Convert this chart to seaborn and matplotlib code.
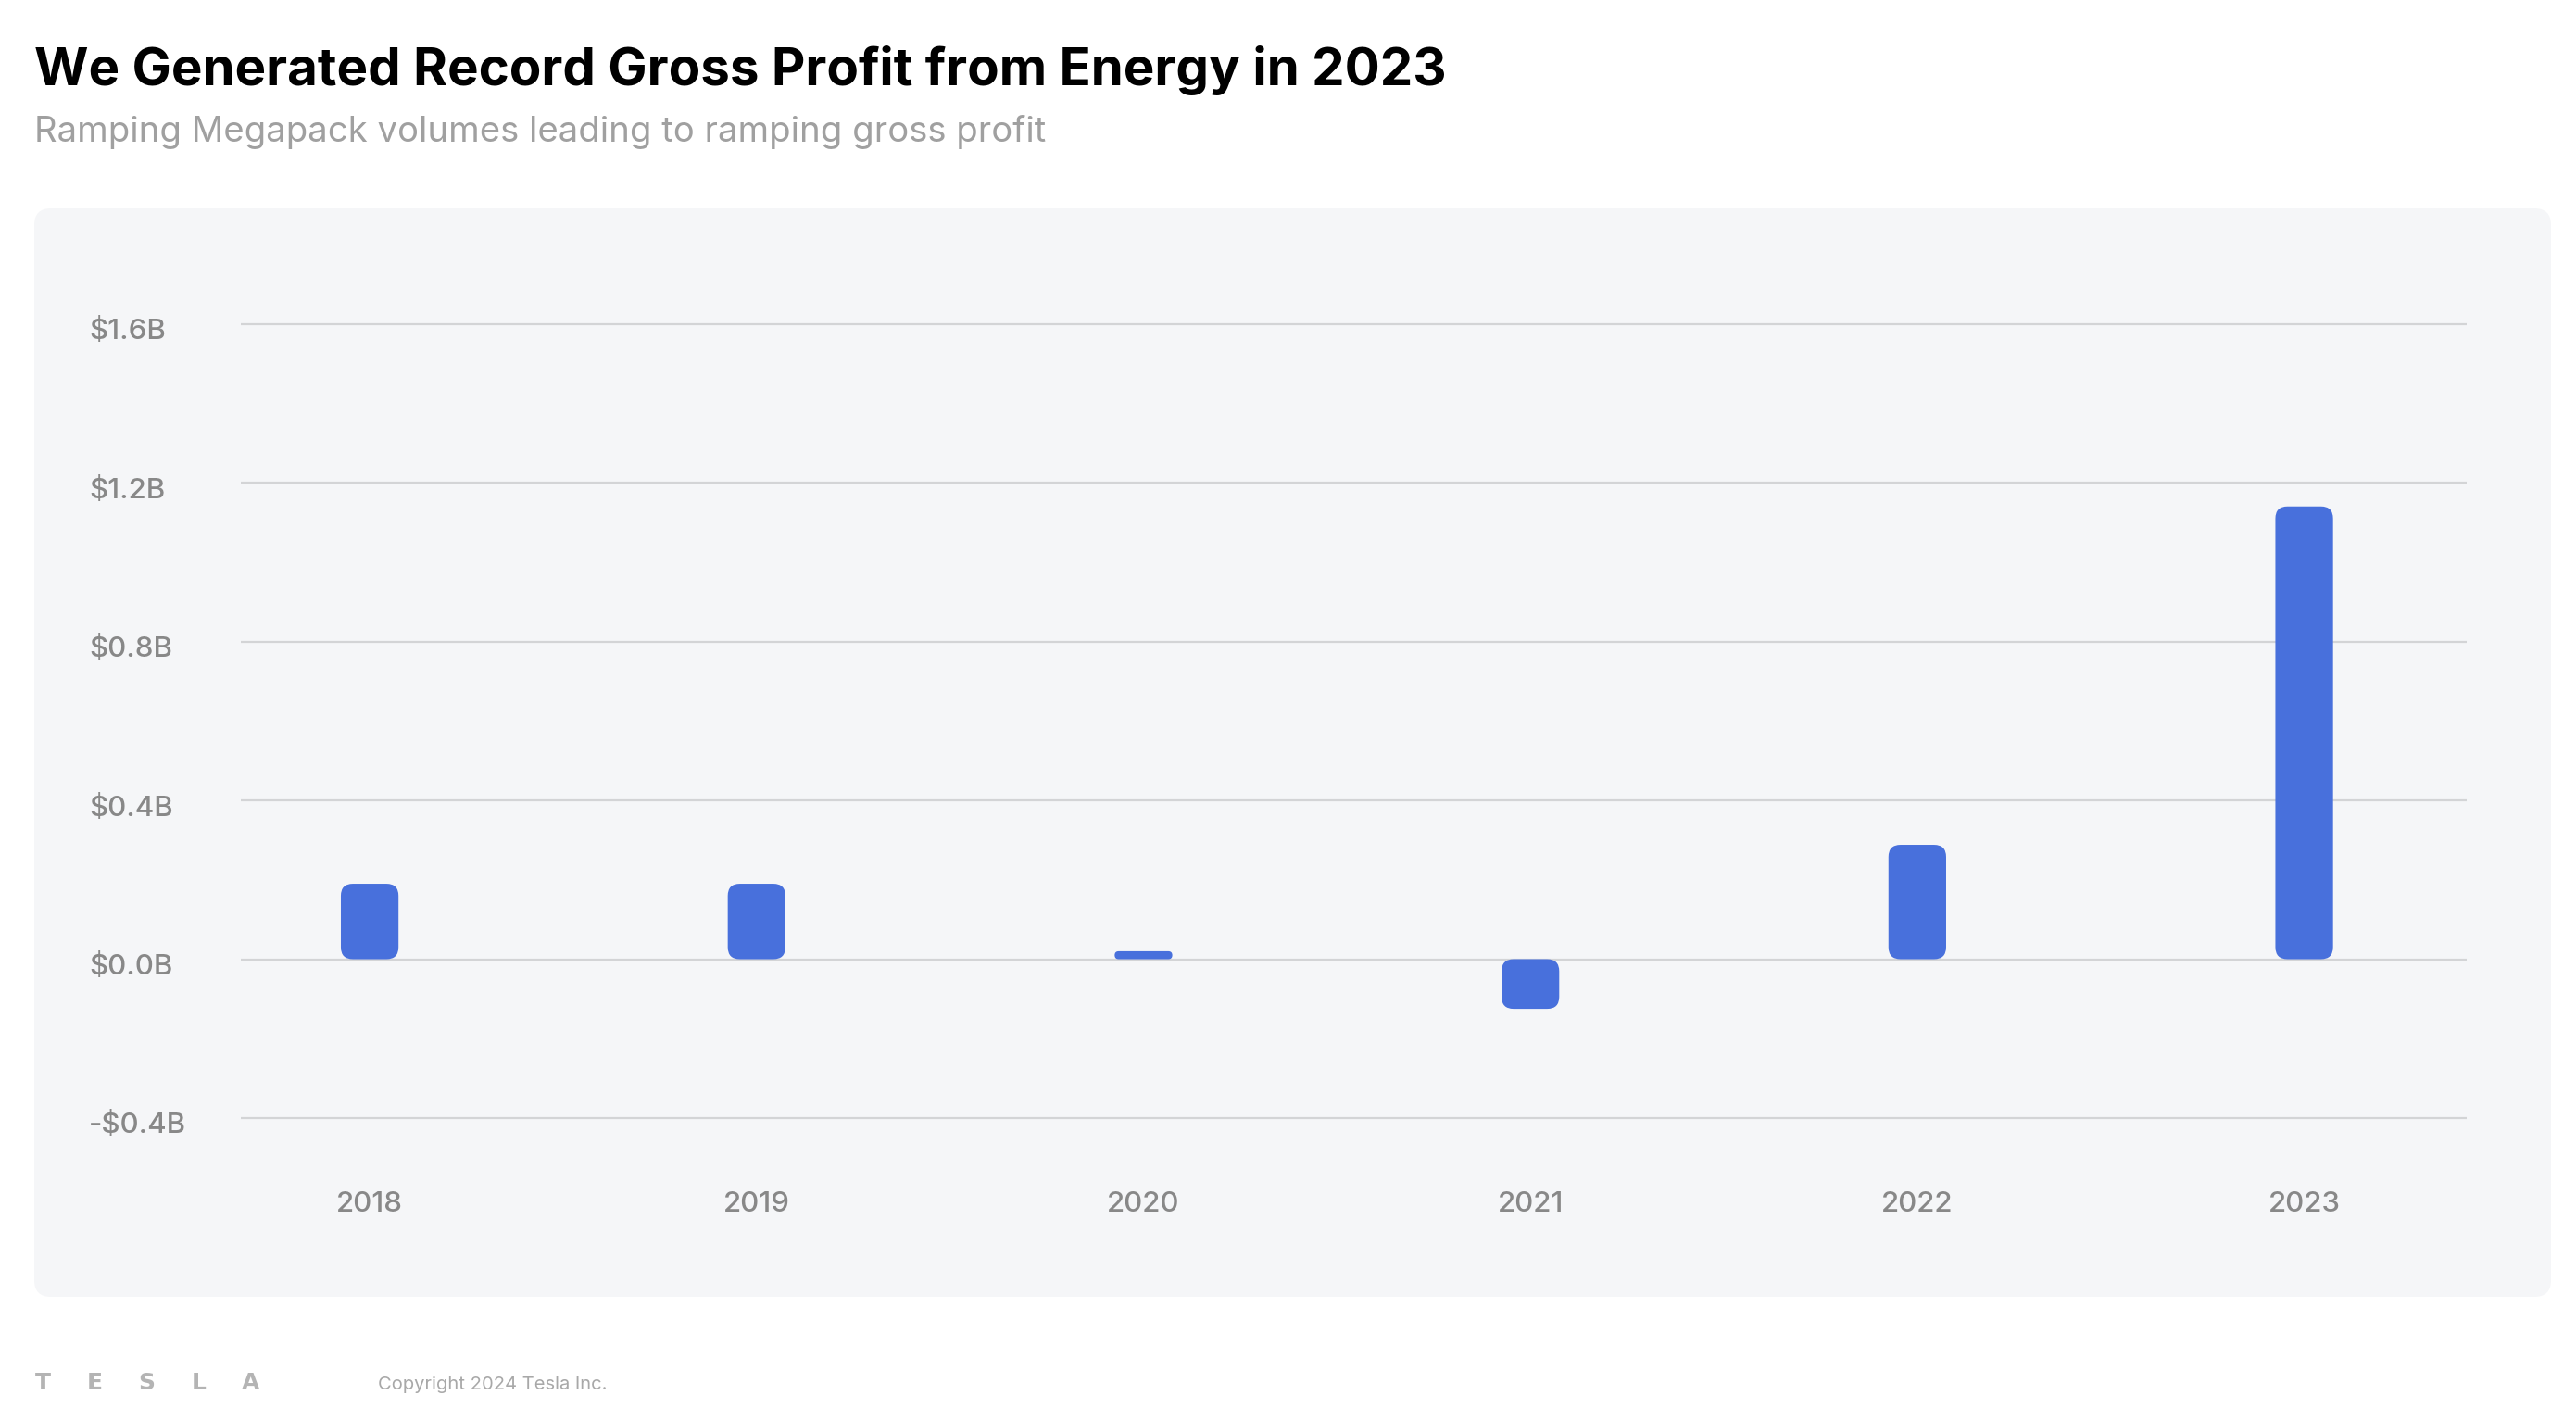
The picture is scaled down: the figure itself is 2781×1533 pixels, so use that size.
import matplotlib
matplotlib.use("Agg")
import matplotlib.pyplot as plt
import matplotlib.transforms as mtrans
import seaborn as sns
import pandas as pd
from matplotlib.patches import FancyBboxPatch

# ---------------- data ----------------
years = ["2018", "2019", "2020", "2021", "2022", "2023"]
gross_profit_b = [0.19, 0.19, 0.02, -0.125, 0.288, 1.14]
y_ticks = [-0.4, 0.0, 0.4, 0.8, 1.2, 1.6]
y_tick_labels = ["-$0.4B", "$0.0B", "$0.4B", "$0.8B", "$1.2B", "$1.6B"]
title = "We Generated Record Gross Profit from Energy in 2023"
subtitle = "Ramping Megapack volumes leading to ramping gross profit"
copyright_text = "Copyright 2024 Tesla Inc."
logo_letters = ["T", "E", "S", "L", "A"]

# ---------------- style ----------------
W, H, DPI = 2781, 1533, 100
BAR = "#4870DC"
PANEL = "#F5F6F8"
GRID = "#D3D4D6"
TICK = "#888888"

sns.set_theme(style="white")
plt.rcParams["font.family"] = ["Inter", "DejaVu Sans"]

fig = plt.figure(figsize=(W / DPI, H / DPI), dpi=DPI, facecolor="white")

# rounded background panel
panel = FancyBboxPatch((37 / W, 1 - 1400 / H), (2754 - 37) / W, (1400 - 225) / H,
                       boxstyle=f"round,pad=0,rounding_size={18 / W}",
                       mutation_aspect=W / H, transform=fig.transFigure,
                       fc=PANEL, ec="none", zorder=-5)
fig.patches.append(panel)

# axes placement (pixel geometry)
xlim = (-0.333, 5.42)
ylim = (-0.41, 1.61)
zero_px, ppu_y = 1035.5, 428.75
top_px = zero_px - ylim[1] * ppu_y
bot_px = zero_px - ylim[0] * ppu_y
left_px, right_px = 260, 2663
ax = fig.add_axes([left_px / W, 1 - bot_px / H, (right_px - left_px) / W, (bot_px - top_px) / H])
ax.set_facecolor("none")
ax.set_zorder(2)

df = pd.DataFrame({"year": years, "gp": gross_profit_b})
sns.barplot(data=df, x="year", y="gp", color=BAR, saturation=1, width=0.149, ax=ax)

ax.set_xlim(*xlim)
ax.set_ylim(*ylim)
ax.set_yticks(y_ticks)
ax.set_yticklabels(y_tick_labels)
ax.set_xlabel("")
ax.set_ylabel("")
for s in ax.spines.values():
    s.set_visible(False)
ax.grid(axis="y", color=GRID, linewidth=1.6)
ax.grid(axis="x", visible=False)
ax.set_axisbelow(True)
ax.tick_params(axis="y", length=0, pad=118, labelsize=22.5, labelcolor=TICK)
ax.tick_params(axis="x", length=0, pad=54, labelsize=22.5, labelcolor=TICK)
shift = mtrans.ScaledTranslation(0, -5 / DPI, fig.dpi_scale_trans)
for lab in ax.get_yticklabels():
    lab.set_horizontalalignment("left")
    lab.set_verticalalignment("center_baseline")
    lab.set_fontweight("medium")
    lab.set_transform(lab.get_transform() + shift)
for lab in ax.get_xticklabels():
    lab.set_fontweight("medium")

# rounded bars
x_ppu = (right_px - left_px) / (xlim[1] - xlim[0])
y_ppu = (bot_px - top_px) / (ylim[1] - ylim[0])
asp = x_ppu / y_ppu
R = 13
for p in list(ax.patches):
    x, y, w, h = p.get_x(), p.get_y(), p.get_width(), p.get_height()
    if h < 0:
        y, h = y + h, -h
    r = min(R / x_ppu, w / 2, h / (2 * asp))
    fb = FancyBboxPatch((x, y), w, h, boxstyle=f"round,pad=0,rounding_size={r}",
                        mutation_aspect=asp, fc=p.get_facecolor(), ec="none",
                        zorder=p.get_zorder())
    p.remove()
    ax.add_patch(fb)

# texts
t_title = fig.text(37 / W, 1 - 92 / H, title, fontsize=44, fontweight="bold",
                   color="black", ha="left", va="baseline")
t_sub = fig.text(37 / W, 1 - 153 / H, subtitle, fontsize=28, color="#A0A0A0",
                 ha="left", va="baseline")
t_copy = fig.text(408 / W, 1 - 1495 / H, copyright_text, fontsize=15, color="#A8A8A8",
                  ha="left", va="center")
for xc, letter in zip([46, 102, 158, 215, 271], logo_letters):
    fig.text(xc / W, 1 - 1493 / H, letter, fontsize=18, fontweight="bold",
             color="#B4B4B4", ha="center", va="center", family=["DejaVu Sans"])

# fit widths of text to reference
fig.canvas.draw()
rend = fig.canvas.get_renderer()
for t, target in [(t_title, 1525), (t_sub, 1091), (t_copy, 248)]:
    wpx = t.get_window_extent(rend).width
    t.set_fontsize(t.get_fontsize() * target / wpx)

fig.savefig("out.png", dpi=DPI, facecolor="white")
